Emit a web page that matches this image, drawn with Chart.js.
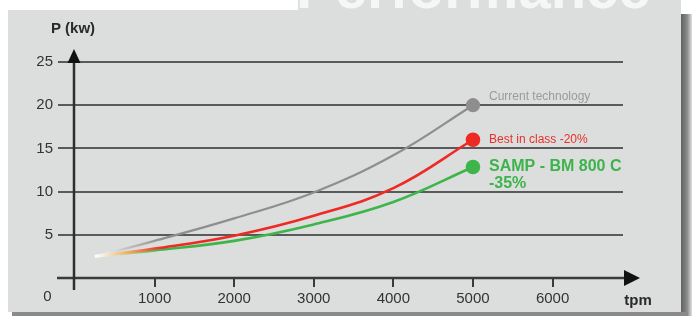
<!DOCTYPE html>
<html>
<head>
<meta charset="utf-8">
<script src="https://cdn.jsdelivr.net/npm/chart.js@4/dist/chart.umd.min.js"></script>
<style>
  html, body { margin: 0; padding: 0; background: #fff; }
  #wrap { width: 694px; height: 326px; }
</style>
</head>
<body>
<div id="wrap"><canvas id="perfChart" width="694" height="326"></canvas></div>
<script>
// values
const rpm = [250, 1000, 2000, 3000, 4000, 5000];
const currentTech = [2.5, 4.3, 6.9, 9.9, 14.2, 20];
const bestInClass = [2.5, 3.4, 4.9, 7.2, 10.4, 16];
const sampBm800c = [2.5, 3.2, 4.3, 6.2, 8.8, 12.85];
const seriesNames = ['Current technology', 'Best in class -20%', 'SAMP - BM 800 C'];
const xTicks = [1000, 2000, 3000, 4000, 5000, 6000];
const yTicks = [5, 10, 15, 20, 25];

const FONT = '"Liberation Sans", Arial, sans-serif';

function toPoints(ys)
{
    return rpm.map((x, i) => ({ x: x, y: ys[i] }));
}

function endDotOnly(ys, r)
{
    return ys.map((v, i) => i === ys.length - 1 ? r : 0);
}

// lines fade in from white at their start
function fadeColor(color, mid)
{
    return function (context)
    {
        const chart = context.chart;
        if (!chart.chartArea || !chart.scales.x) return color;
        const xs = chart.scales.x;
        const g = chart.ctx.createLinearGradient(xs.getPixelForValue(rpm[0]), 0, xs.getPixelForValue(1100), 0);
        g.addColorStop(0, 'rgba(255,255,255,0.9)');
        g.addColorStop(0.45, mid);
        g.addColorStop(1, color);
        return g;
    };
}

const backdrop = {
    id: 'backdrop',
    beforeDraw(chart)
    {
        const ctx = chart.ctx;
        ctx.save();
        ctx.fillStyle = '#ffffff';
        ctx.fillRect(0, 0, 694, 326);
        // shadow right and bottom
        const sh = ctx.createLinearGradient(680, 0, 692, 0);
        sh.addColorStop(0, '#5a5a5a');
        sh.addColorStop(0.6, '#8a8a8a');
        sh.addColorStop(1, '#e0e0e0');
        ctx.fillStyle = sh;
        ctx.fillRect(680, 14, 12, 302);
        ctx.fillStyle = '#8a8a8a';
        ctx.fillRect(12, 312, 676, 4);
        // panel
        ctx.fillStyle = '#dcdddd';
        ctx.fillRect(8, 10, 673, 302);
        ctx.fillRect(298, 0, 383, 10);
        // heading, mostly cut off above the panel
        ctx.beginPath();
        ctx.rect(0, 0, 694, 10);
        ctx.clip();
        ctx.fillStyle = '#f6f6f6';
        ctx.font = 'bold 58px ' + FONT;
        ctx.textBaseline = 'alphabetic';
        ctx.fillText('Performance', 296, 8);
        ctx.restore();
    }
};

const axesAndLabels = {
    id: 'axesAndLabels',
    afterDraw(chart)
    {
        const ctx = chart.ctx;
        const xs = chart.scales.x;
        const ys = chart.scales.y;
        const x0 = xs.getPixelForValue(0);
        const y0 = ys.getPixelForValue(0);
        const yTop = ys.getPixelForValue(25);
        ctx.save();
        // x axis with arrow
        ctx.strokeStyle = '#3a3a3a';
        ctx.lineWidth = 2.5;
        ctx.beginPath();
        ctx.moveTo(57, y0);
        ctx.lineTo(628, y0);
        ctx.stroke();
        ctx.fillStyle = '#111';
        ctx.beginPath();
        ctx.moveTo(624, y0 - 8);
        ctx.lineTo(640, y0);
        ctx.lineTo(624, y0 + 8);
        ctx.closePath();
        ctx.fill();
        // y axis with arrow
        ctx.strokeStyle = '#2e2e2e';
        ctx.lineWidth = 2.5;
        ctx.beginPath();
        ctx.moveTo(x0 - 1, 290);
        ctx.lineTo(x0 - 1, yTop - 2);
        ctx.stroke();
        ctx.beginPath();
        ctx.moveTo(x0 - 7.5, yTop + 1);
        ctx.lineTo(x0 - 1, yTop - 13);
        ctx.lineTo(x0 + 5.5, yTop + 1);
        ctx.closePath();
        ctx.fill();

        // axis titles and the origin label
        ctx.fillStyle = '#2a2a2a';
        ctx.textAlign = 'center';
        ctx.textBaseline = 'middle';
        ctx.font = 'bold 15px ' + FONT;
        ctx.fillText('P (kw)', 73, 29);
        ctx.fillText('tpm', 638, 301);
        ctx.font = '15px ' + FONT;
        ctx.fillStyle = '#333';
        ctx.fillText('0', 47.5, 297);

        // series labels next to the end points
        const styles = [
            { font: '12px ' + FONT, color: '#9a9a9a', dy: -9 },
            { font: '12px ' + FONT, color: '#e8302a', dy: 0 },
            { font: 'bold 16px ' + FONT, color: '#3cb44b', dy: 0 }
        ];
        ctx.textAlign = 'left';
        chart.data.datasets.forEach((ds, i) =>
        {
            const meta = chart.getDatasetMeta(i);
            const pt = meta.data[meta.data.length - 1];
            const s = styles[i];
            ctx.font = s.font;
            ctx.fillStyle = s.color;
            ctx.fillText(seriesNames[i], pt.x + 16, pt.y + s.dy);
            if (i === 2) ctx.fillText('-35%', pt.x + 16, pt.y + 17);
        });
        ctx.restore();
    }
};

const ctx = document.getElementById('perfChart').getContext('2d');

new Chart(ctx, {
    type: 'line',
    data: {
        datasets: [
            {
                label: seriesNames[0],
                data: toPoints(currentTech),
                borderColor: fadeColor('#8e8e8e', '#c4c4c4'),
                borderWidth: 2.2,
                pointRadius: endDotOnly(currentTech, 6),
                pointBackgroundColor: '#8e8e8e',
                pointBorderColor: '#8e8e8e',
                tension: 0.4,
                fill: false
            },
            {
                label: seriesNames[1],
                data: toPoints(bestInClass),
                borderColor: fadeColor('#ee2a24', '#f2b56a'),
                borderWidth: 2.6,
                pointRadius: endDotOnly(bestInClass, 6),
                pointBackgroundColor: '#ee2a24',
                pointBorderColor: '#ee2a24',
                tension: 0.4,
                fill: false
            },
            {
                label: seriesNames[2],
                data: toPoints(sampBm800c),
                borderColor: fadeColor('#3db54a', '#b6d98a'),
                borderWidth: 2.6,
                pointRadius: endDotOnly(sampBm800c, 6),
                pointBackgroundColor: '#3db54a',
                pointBorderColor: '#3db54a',
                tension: 0.4,
                fill: false
            }
        ]
    },
    options: {
        responsive: false,
        animation: false,
        devicePixelRatio: 1,
        layout: {
            padding: { left: 9, right: 71, top: 62, bottom: 18 }
        },
        plugins: {
            legend: { display: false },
            tooltip: { enabled: false }
        },
        scales: {
            x: {
                type: 'linear',
                min: 0,
                max: 6885,
                afterBuildTicks: (s) => { s.ticks = xTicks.map(v => ({ value: v })); },
                afterFit: (s) => { s.height = 30; },
                border: { display: false },
                grid: {
                    drawOnChartArea: false,
                    drawTicks: true,
                    tickLength: 9,
                    color: '#3a3a3a',
                    lineWidth: 2
                },
                ticks: {
                    padding: 3,
                    color: '#333',
                    font: { family: FONT, size: 15 },
                    maxRotation: 0,
                    callback: (v) => String(v)
                }
            },
            y: {
                min: 0,
                max: 25,
                afterBuildTicks: (s) => { s.ticks = [0].concat(yTicks).map(v => ({ value: v })); },
                afterFit: (s) => { s.width = 66; },
                border: { display: false },
                grid: {
                    drawTicks: true,
                    tickLength: 17,
                    color: '#5a5a5a',
                    lineWidth: 2
                },
                ticks: {
                    padding: 5,
                    color: '#333',
                    font: { family: FONT, size: 15 },
                    callback: (v) => v === 0 ? '' : String(v)
                }
            }
        }
    },
    plugins: [backdrop, axesAndLabels]
});
</script>
</body>
</html>
